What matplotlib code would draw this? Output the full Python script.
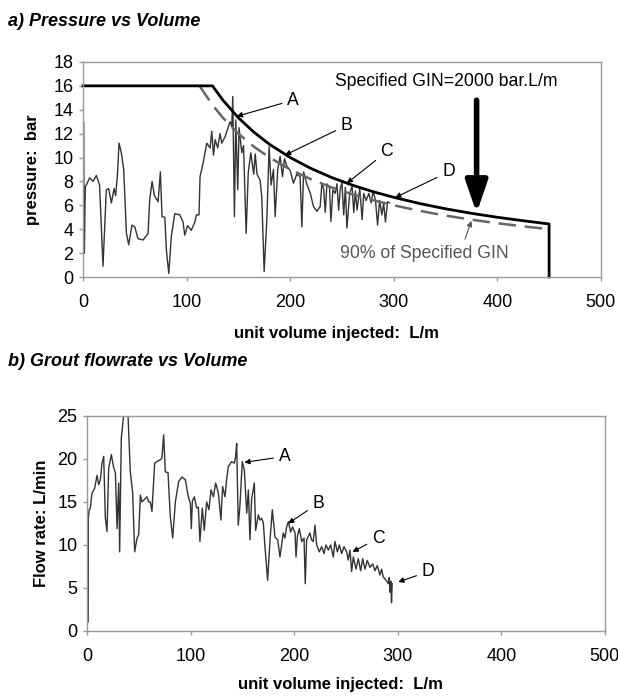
import matplotlib
matplotlib.use('Agg')
import matplotlib.pyplot as plt

plt.rcParams['font.family'] = ['Liberation Sans', 'DejaVu Sans']

# a) pressure record
pressure_vol = [0, 0.5, 1.3, 2.2, 3.2, 6.4, 9.7, 12.9, 16, 19.3, 22.5, 24.8, 27.4, 30, 31.5,
                33.2, 34.8, 37, 39.3, 41.9, 44.1, 47.3, 50, 53.1, 58, 62.8, 64.4, 66.7, 69,
                72.5, 74.7, 76.3, 79, 80.5, 82.8, 85.3, 88.6, 93.4, 96.6, 98.2, 101, 104.5,
                108, 109.5, 112, 113, 116.2, 119.5, 122.7, 124.3, 126, 127.6, 130.1, 132.3,
                134, 137.2, 140.4, 142, 143.6, 144.6, 146.2, 147.5, 149.4, 150.7, 153.3, 155,
                157.5, 159.6, 162, 164.8, 166.3, 168, 171, 172.6, 174.9, 177.5, 179.7, 181.6,
                183.9, 185.5, 188, 190.3, 192.6, 194.5, 196.7, 200, 203.2, 206.4, 209.6,
                211.3, 213, 214.5, 216, 219.5, 222.5, 225.8, 229, 230.6, 232.3, 233.9, 235.5,
                238, 239.3, 241.3, 243.5, 245.2, 246.8, 248.4, 250, 251.7, 253.3, 254.8,
                257.5, 259.8, 261.4, 263, 264.6, 267.2, 269.5, 271, 273.3, 276, 278.2, 280.1,
                282.4, 284.4, 286.4, 288.6, 290.3, 292, 294, 296]
pressure_bar = [1.0, 13.0, 2.0, 7.6, 7.7, 8.3, 8.0, 8.5, 7.7, 0.9, 7.3, 7.4, 6.2, 7.4, 6.8,
                8.5, 11.2, 10.4, 9.0, 3.7, 2.7, 4.35, 4.2, 3.2, 3.1, 3.65, 6.45, 8.0, 6.8,
                6.3, 8.8, 5.05, 5.0, 2.26, 0.3, 3.4, 5.3, 5.2, 4.6, 3.5, 4.3, 3.9,
                4.6, 5.2, 5.2, 8.4, 9.65, 11.2, 10.8, 12.2, 10.2, 11.5, 10.8, 12.0,
                11.2, 11.75, 12.6, 13.0, 12.6, 15.1, 5.05, 13.15, 7.3, 12.5, 10.4, 11.0,
                3.65, 8.8, 10.4, 8.6, 10.3, 8.6, 8.1, 6.7, 0.45, 4.8, 10.9, 7.7,
                9.0, 5.05, 9.0, 10.1, 8.4, 9.9, 9.3, 8.9, 7.85, 8.6, 8.4,
                4.2, 8.8, 8.3, 7.8, 7.0, 5.9, 5.5, 5.9, 7.8, 7.4, 5.4, 7.8,
                7.5, 4.65, 7.3, 7.0, 7.8, 5.6, 7.4, 7.9, 5.2, 7.5, 4.1,
                7.0, 7.6, 5.4, 7.2, 5.6, 7.4, 4.8, 7.0, 6.4, 7.0, 6.2, 7.2,
                6.4, 4.35, 6.4, 5.2, 6.2, 4.6, 6.3, 6.2]

# GIN limit curves
gin_vol = [0, 125, 135, 150, 165, 180, 200, 220, 240, 260, 280, 300, 325, 350, 375, 400,
           425, 450, 450]
gin_bar = [16, 16, 14.81, 13.33, 12.12, 11.11, 10.0, 9.09, 8.33, 7.69, 7.14, 6.67, 6.15,
           5.71, 5.33, 5.0, 4.71, 4.44, 0]
gin90_vol = [112.5, 125, 135, 150, 165, 180, 200, 220, 240, 260, 280, 300, 325, 350, 375,
             400, 425, 450]
gin90_bar = [16, 14.4, 13.33, 12.0, 10.91, 10.0, 9.0, 8.18, 7.5, 6.92, 6.43, 6.0, 5.54,
             5.14, 4.8, 4.5, 4.24, 4.0]

# b) flow rate record
flow_vol = [0, 0.3, 0.7, 1.2, 2, 3.2, 4.8, 7.4, 9.7, 11.3, 12.9, 14.5, 16.1, 17.7, 19.3,
            20.9, 23.5, 25.7, 27.4, 29, 30.6, 31.5, 33.1, 35.4, 37.3, 39.6, 41.8, 44, 46,
            48.3, 49.9, 51.5, 53, 56.3, 57.9, 59.5, 61.1, 62.7, 65.3, 67.5, 70.7, 72.3, 74,
            75.6, 78.2, 80.4, 82.7, 85.3, 88.5, 91.7, 94.9, 97.8, 99.8, 100.7, 101.7,
            103.6, 105.9, 107.5, 109, 111.3, 113.2, 115.5, 117.7, 119.7, 122, 124.2,
            126.9, 129.3, 130.9, 133.2, 134.8, 136.4, 139.6, 142.2, 143.5, 144.5, 146,
            147.6, 149.9, 151.9, 154.2, 155.8, 157.3, 158.9, 161.5, 162.8, 165.4, 167,
            168.6, 170.2, 171.8, 174.4, 176.7, 178.9, 181.5, 184.1, 186.3, 189.5, 191.1,
            192.7, 194.4, 196.6, 198.5, 200.8, 201.8, 203.1, 205, 207.3, 209.5, 210.7,
            212, 213.6, 215.2, 216.8, 218.4, 220.1, 221.7, 224.3, 226.5, 228.8, 230.7,
            233, 235.2, 237.8, 239.4, 241.7, 243.6, 245.9, 248.1, 250.7, 252.2, 253.9,
            255.5, 257.1, 259.7, 261.9, 264.2, 266.1, 268.4, 270.6, 273.2, 275.8, 278,
            280.2, 282.8, 284.4, 286, 288.6, 290.9, 291.8, 292.6, 293.3, 294, 294.6]
flow_rate = [0.1, 15.2, 1.0, 13.0, 14.0, 14.3, 16.0, 16.6, 18.1, 17.0, 17.6, 19.5, 20.3, 13.1,
             11.55, 18.9, 20.5, 19.0, 18.4, 11.9, 17.2, 9.2, 22.4, 25.1, 28, 25, 18.5, 16.2,
             9.2, 10.8, 11.2, 15.8, 15.0, 15.4, 15.6, 15.0, 15.0, 13.9, 19.5, 19.7, 19.9,
             20.1, 22.8, 18.5, 18.4, 13.3, 10.8, 15.0, 17.4, 17.9, 17.6, 15.6, 14.8, 11.9,
             15.1, 15.6, 14.3, 14.4, 10.4, 14.3, 11.7, 15.0, 14.1, 16.4, 15.6, 17.2, 16.0,
             12.9, 16.8, 15.6, 17.6, 19.1, 19.7, 19.5, 20.3, 21.8, 12.3, 14.5, 19.7, 18.7,
             13.7, 16.4, 10.6, 15.3, 17.2, 11.7, 13.5, 12.9, 13.1, 12.6, 9.8, 5.9, 10.6,
             14.1, 10.9, 10.6, 8.6, 11.4, 10.8, 12.1, 12.7, 11.5, 12.1, 11.4, 8.6, 11.0,
             11.9, 10.4, 10.8, 5.5, 10.6, 11.0, 11.4, 10.6, 10.4, 12.3, 10.0, 9.2, 9.8, 9.0,
             10.0, 9.4, 10.0, 8.6, 10.4, 9.2, 10.0, 9.0, 9.8, 9.2, 8.25, 9.4, 6.9, 8.6, 7.2,
             8.4, 7.0, 8.4, 7.2, 8.2, 7.4, 7.8, 7.0, 7.6, 6.5, 7.2, 6.3, 5.9, 5.5, 6.2, 4.5,
             5.8, 3.3, 5.5]

# label: (text position, arrow tip)
p_labels = {'A': ((203, 14.8), (148.5, 13.45)),
            'B': ((254.7, 12.7), (195, 10.2)),
            'C': ((293.4, 10.5), (254.7, 7.85)),
            'D': ((353, 8.8), (301.4, 6.65))}
f_labels = {'A': ((191, 20.3), (151.9, 19.6)),
            'B': ((223.3, 14.85), (194.3, 12.5)),
            'C': ((281.2, 10.8), (256.4, 9.2)),
            'D': ((329.5, 6.9), (300.5, 5.7))}

TICK_FS = 13
TEXT_FS = 12.7
LABEL_FS = 12
SPINE = '#9a9a9a'


def style_axes(ax, xmax, ymax, ystep):
    ax.set_xlim(0, xmax)
    ax.set_ylim(0, ymax)
    ax.set_xticks(range(0, xmax + 1, 100))
    ax.set_yticks(range(0, ymax + 1, ystep))
    for s in ax.spines.values():
        s.set_color(SPINE)
        s.set_linewidth(1.0)
    ax.tick_params(direction='out', length=3, width=1, color=SPINE,
                   labelsize=TICK_FS, labelcolor='black')
    ax.tick_params(axis='x', pad=9)
    ax.tick_params(axis='y', pad=4)


fig = plt.figure(figsize=(6.18, 6.96), dpi=100)

# ---- a) pressure vs volume ----
ax1 = fig.add_axes([0.1343, 0.602, 0.838, 0.309])
style_axes(ax1, 500, 18, 2)
ax1.plot(pressure_vol, pressure_bar, color='#333333', lw=1.0)
ax1.plot(gin90_vol, gin90_bar, color='#666666', lw=1.8, dashes=(7, 3.5))
ax1.plot(gin_vol, gin_bar, color='black', lw=2.0, clip_on=False)

for lab, (txt, tip) in p_labels.items():
    ax1.annotate(lab, xy=tip, xytext=txt, fontsize=TEXT_FS, ha='center', va='center',
                 arrowprops=dict(arrowstyle='-|>', color='black', lw=0.8,
                                 mutation_scale=8, shrinkA=2, shrinkB=0))

ax1.text(350.7, 16.35, 'Specified GIN=2000 bar.L/m', fontsize=TEXT_FS,
         ha='center', va='center')
ax1.annotate('', xy=(380, 5.35), xytext=(380, 14.8),
             arrowprops=dict(arrowstyle='-|>,head_length=1.6,head_width=0.55',
                             color='black', lw=4, mutation_scale=12,
                             shrinkA=0, shrinkB=0))
ax1.plot([380, 380], [14.85, 7.9], color='white', lw=1.3, solid_capstyle='butt')

ax1.annotate('90% of Specified GIN', xy=(375, 4.7), xytext=(329.5, 2.0),
             fontsize=TEXT_FS, color='#555555', ha='center', va='center',
             arrowprops=dict(arrowstyle='-|>', color='#555555', lw=0.8,
                             mutation_scale=8, shrinkA=2, shrinkB=0,
                             relpos=(0.73, 1.0)))

ax1.set_xlabel('unit volume injected:  L/m', fontsize=LABEL_FS, fontweight='bold')
ax1.set_ylabel('pressure:  bar', fontsize=LABEL_FS, fontweight='bold')
ax1.xaxis.set_label_coords(0.49, -0.23)
ax1.yaxis.set_label_coords(-0.083, 0.5)

# ---- b) flowrate vs volume ----
ax2 = fig.add_axes([0.1408, 0.0934, 0.838, 0.309])
style_axes(ax2, 500, 25, 5)
ax2.plot(flow_vol, flow_rate, color='#333333', lw=1.0)

for lab, (txt, tip) in f_labels.items():
    ax2.annotate(lab, xy=tip, xytext=txt, fontsize=TEXT_FS, ha='center', va='center',
                 arrowprops=dict(arrowstyle='-|>', color='black', lw=0.8,
                                 mutation_scale=8, shrinkA=2, shrinkB=0))

ax2.set_xlabel('unit volume injected:  L/m', fontsize=LABEL_FS, fontweight='bold')
ax2.set_ylabel('Flow rate: L/min', fontsize=LABEL_FS, fontweight='bold')
ax2.xaxis.set_label_coords(0.49, -0.215)
ax2.yaxis.set_label_coords(-0.073, 0.5)

fig.text(0.013, 1 - 22 / 696, 'a) Pressure vs Volume', fontsize=13,
         fontweight='bold', fontstyle='italic', va='center')
fig.text(0.013, 1 - 362 / 696, 'b) Grout flowrate vs Volume', fontsize=13,
         fontweight='bold', fontstyle='italic', va='center')

fig.savefig('out.png', dpi=100)
